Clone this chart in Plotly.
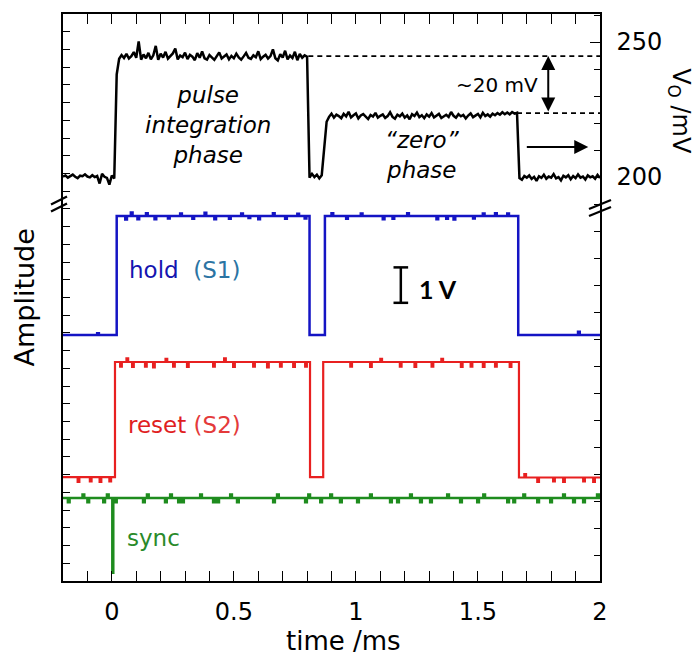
import plotly.graph_objects as go

# ---------------- data ----------------
# Output voltage V_O (mV), sampled every 0.01 ms from -0.20 to 2.00 ms
v0_mV = [
    # -0.20 .. 0.01 (baseline)
    200.2, 200.6, 199.8, 200.4, 200.9, 200.1, 199.6, 200.5, 200.3, 201.0,
    200.2, 199.9, 200.7, 200.0, 200.4, 197.6, 201.2, 200.1, 199.7, 197.2,
    200.6, 199.5,
    # 0.02 (rise)
    238.0,
    # 0.03 .. 0.80 (pulse integration)
    243.8, 245.2, 244.1, 245.6, 243.9, 244.8, 246.3, 244.2, 250.2, 243.5,
    245.4, 244.0, 246.0, 243.6, 245.1, 248.6, 243.4, 245.7, 244.3, 246.4,
    243.9, 244.9, 245.8, 247.6, 243.6, 245.0, 244.4, 246.1, 243.7, 245.3,
    244.6, 243.3, 245.9, 244.2, 246.5, 244.0, 243.5, 245.2, 244.1, 243.4,
    244.8, 246.2, 243.9, 244.5, 245.4, 243.6, 244.9, 244.0, 245.7, 244.3,
    243.5, 244.7, 246.0, 244.2, 243.8, 245.1, 244.4, 246.6, 243.7, 244.6,
    245.3, 243.9, 244.8, 247.3, 244.0, 243.2, 245.5, 244.3, 246.8, 243.6,
    245.0, 244.1, 246.4, 243.3, 245.6, 244.2, 245.1, 244.6,
    # 0.81 .. 0.86 (reset dip)
    199.8, 201.2, 200.0, 200.9, 199.5, 200.7,
    # 0.87 .. 0.88 (rise)
    212.0, 220.5,
    # 0.89 .. 1.66 ("zero" phase)
    222.3, 223.5, 222.0, 223.1, 222.6, 221.8, 223.4, 222.5, 224.2, 222.1,
    222.9, 223.6, 221.7, 222.8, 223.3, 222.2, 221.5, 223.0, 222.4, 223.8,
    222.0, 222.7, 223.2, 221.9, 222.6, 224.0, 222.3, 221.6, 223.1, 222.5,
    223.5, 222.0, 222.8, 221.4, 223.3, 222.6, 223.9, 222.2, 222.9, 221.8,
    223.2, 222.4, 223.7, 222.1, 222.8, 223.4, 221.9, 222.6, 223.1, 222.3,
    224.1, 222.7, 222.0, 223.3, 222.5, 223.0, 221.7, 222.8, 223.6, 222.2,
    222.9, 223.4, 222.1, 223.8, 222.6, 223.2, 222.4, 223.5, 222.9, 223.7,
    223.1, 224.0, 223.3, 223.9, 223.2, 224.1, 223.5, 223.8,
    # 1.67 .. 2.00 (baseline)
    199.6, 199.0, 200.4, 199.8, 200.6, 199.3, 200.1, 198.6, 200.3, 199.7,
    200.9, 199.4, 200.2, 199.8, 201.1, 199.5, 200.0, 198.8, 200.5, 199.9,
    200.7, 199.2, 200.4, 199.6, 201.0, 199.8, 200.2, 199.1, 200.6, 199.9,
    200.3, 199.4, 200.8, 199.7,
]
time_ms = [round(-0.2 + 0.01 * i, 2) for i in range(len(v0_mV))]

# Digital signals (time ms, amplitude V) as step breakpoints
hold_S1 = [
    (-0.20, 6.94), (-0.060, 6.99), (-0.053, 6.94), (0.020, 10.30),
    (0.055, 10.20), (0.062, 10.30), (0.078, 10.40), (0.085, 10.30),
    (0.105, 10.21), (0.112, 10.30), (0.140, 10.38), (0.147, 10.30),
    (0.175, 10.21), (0.182, 10.30), (0.230, 10.23), (0.237, 10.30),
    (0.280, 10.37), (0.287, 10.30), (0.330, 10.22), (0.337, 10.30),
    (0.380, 10.39), (0.387, 10.30), (0.420, 10.21), (0.427, 10.30),
    (0.480, 10.22), (0.487, 10.30), (0.530, 10.37), (0.537, 10.30),
    (0.560, 10.24), (0.567, 10.30), (0.600, 10.21), (0.607, 10.30),
    (0.660, 10.38), (0.667, 10.30), (0.710, 10.22), (0.717, 10.30),
    (0.760, 10.36), (0.767, 10.30), (0.790, 10.23), (0.797, 10.30),
    (0.810, 6.94), (0.873, 10.30),
    (0.900, 10.38), (0.907, 10.30), (0.960, 10.22), (0.967, 10.30),
    (1.020, 10.37), (1.027, 10.30), (1.110, 10.21), (1.117, 10.30),
    (1.150, 10.22), (1.157, 10.30), (1.210, 10.38), (1.217, 10.30),
    (1.330, 10.21), (1.337, 10.30), (1.370, 10.22), (1.377, 10.30),
    (1.400, 10.20), (1.407, 10.30), (1.480, 10.23), (1.487, 10.30),
    (1.520, 10.37), (1.527, 10.30), (1.570, 10.38), (1.577, 10.30),
    (1.620, 10.37), (1.627, 10.30),
    (1.665, 6.94), (1.910, 7.03), (1.917, 6.94), (2.00, 6.94),
]
reset_S2 = [
    (-0.20, 2.93), (-0.140, 2.80), (-0.133, 2.93), (-0.090, 2.81), (-0.083, 2.93),
    (-0.050, 2.80), (-0.043, 2.93), (-0.010, 2.81), (-0.003, 2.93),
    (0.013, 6.18),
    (0.034, 6.05), (0.041, 6.18), (0.060, 6.28), (0.067, 6.18),
    (0.083, 6.04), (0.090, 6.18), (0.136, 6.05), (0.143, 6.18),
    (0.169, 6.03), (0.176, 6.18), (0.220, 6.27), (0.227, 6.18),
    (0.251, 6.05), (0.258, 6.18), (0.308, 6.04), (0.315, 6.18),
    (0.415, 6.05), (0.422, 6.18), (0.460, 6.28), (0.467, 6.18),
    (0.497, 6.04), (0.504, 6.18), (0.579, 6.05), (0.586, 6.18),
    (0.636, 6.03), (0.643, 6.18), (0.689, 6.05), (0.696, 6.18),
    (0.743, 6.04), (0.750, 6.18), (0.792, 6.05), (0.799, 6.18),
    (0.812, 2.93), (0.866, 6.18),
    (0.977, 6.05), (0.984, 6.18), (1.058, 6.04), (1.065, 6.18),
    (1.100, 6.27), (1.107, 6.18), (1.180, 6.05), (1.187, 6.18),
    (1.240, 6.04), (1.247, 6.18), (1.310, 6.05), (1.317, 6.18),
    (1.350, 6.27), (1.357, 6.18), (1.430, 6.04), (1.437, 6.18),
    (1.470, 6.05), (1.477, 6.18), (1.520, 6.04), (1.527, 6.18),
    (1.570, 6.05), (1.577, 6.18), (1.630, 6.04), (1.637, 6.18),
    (1.668, 2.92), (1.690, 3.02), (1.697, 2.92), (1.743, 2.80), (1.750, 2.92),
    (1.808, 2.81), (1.815, 2.92), (1.849, 2.80), (1.856, 2.92),
    (1.931, 2.81), (1.938, 2.92), (1.972, 2.80), (1.979, 2.92), (2.00, 2.92),
]
sync = [
    (-0.20, 2.34), (-0.180, 2.22), (-0.173, 2.34), (-0.120, 2.44), (-0.113, 2.34),
    (-0.100, 2.22), (-0.093, 2.34), (-0.035, 2.22), (-0.028, 2.34),
    (-0.020, 2.44), (-0.013, 2.34), (0.002, 0.23), (0.006, 2.34),
    (0.013, 2.22), (0.020, 2.34), (0.128, 2.22), (0.135, 2.34),
    (0.144, 2.44), (0.151, 2.34), (0.218, 2.22), (0.225, 2.34),
    (0.239, 2.44), (0.246, 2.34), (0.272, 2.22), (0.279, 2.34),
    (0.288, 2.22), (0.295, 2.34), (0.362, 2.44), (0.369, 2.34),
    (0.415, 2.22), (0.422, 2.34), (0.432, 2.22), (0.439, 2.34),
    (0.485, 2.44), (0.492, 2.34), (0.513, 2.22), (0.520, 2.34),
    (0.661, 2.22), (0.668, 2.34), (0.677, 2.44), (0.684, 2.34),
    (0.792, 2.22), (0.799, 2.34), (0.805, 2.44), (0.812, 2.34),
    (0.854, 2.22), (0.861, 2.34), (0.895, 2.44), (0.902, 2.34),
    (0.935, 2.22), (0.942, 2.34), (1.005, 2.22), (1.012, 2.34),
    (1.058, 2.44), (1.065, 2.34), (1.140, 2.22), (1.147, 2.34),
    (1.169, 2.22), (1.176, 2.34), (1.222, 2.44), (1.229, 2.34),
    (1.263, 2.22), (1.270, 2.34), (1.304, 2.22), (1.311, 2.34),
    (1.374, 2.44), (1.381, 2.34), (1.427, 2.22), (1.434, 2.34),
    (1.497, 2.22), (1.504, 2.34), (1.522, 2.44), (1.529, 2.34),
    (1.620, 2.22), (1.627, 2.34), (1.645, 2.22), (1.652, 2.34),
    (1.686, 2.44), (1.693, 2.34), (1.743, 2.22), (1.750, 2.34),
    (1.796, 2.22), (1.803, 2.34), (1.849, 2.44), (1.856, 2.34),
    (1.890, 2.22), (1.897, 2.34), (1.931, 2.22), (1.938, 2.34),
    (1.988, 2.44), (1.995, 2.34), (2.00, 2.34),
]

x_ticks = [0, 0.5, 1, 1.5, 2]
x_ticktext = ["0", "0.5", "1", "1.5", "2"]
v0_ticks = [200, 250]

level_pulse_mV = 244.8    # dashed reference: integrated pulse level
level_zero_mV = 223.7     # dashed reference: "zero" level
t_pulse_end = 0.805
t_zero_end = 1.66

scalebar_t = 1.184
scalebar_bottom_V = 7.85
scalebar_V = 1.0

# ---------------- figure ----------------
FONT = "DejaVu Sans"
fig = go.Figure()

fig.add_trace(go.Scatter(x=time_ms, y=v0_mV, mode="lines", yaxis="y2",
                         line=dict(color="black", width=2.5), hoverinfo="skip"))

def add_step(pairs, color, width):
    t = [p[0] for p in pairs]
    v = [p[1] for p in pairs]
    fig.add_trace(go.Scatter(x=t, y=v, mode="lines", line_shape="hv",
                             line=dict(color=color, width=width), hoverinfo="skip"))

add_step(sync, "#1e8c1e", 2.5)
add_step(reset_S2, "#e82020", 2.2)
add_step(hold_S1, "#1414c4", 2.5)

# 1 V scale bar (I-beam)
half = 0.03
top = scalebar_bottom_V + scalebar_V
fig.add_trace(go.Scatter(
    x=[scalebar_t - half, scalebar_t + half, None, scalebar_t, scalebar_t, None,
       scalebar_t - half, scalebar_t + half],
    y=[top, top, None, top, scalebar_bottom_V, None, scalebar_bottom_V, scalebar_bottom_V],
    mode="lines", line=dict(color="black", width=2.5), hoverinfo="skip"))

shapes = [
    dict(type="line", xref="x", yref="y2", x0=t_pulse_end, x1=2.0,
         y0=level_pulse_mV, y1=level_pulse_mV, line=dict(color="black", width=1.6, dash="5px,4px")),
    dict(type="line", xref="x", yref="y2", x0=t_zero_end, x1=2.0,
         y0=level_zero_mV, y1=level_zero_mV, line=dict(color="black", width=1.6, dash="5px,4px")),
]

# axis-break marks (pixel geometry converted to paper coords)
PW, PH = 537.0, 567.0
def brk(cx, cy, w, h):
    for dy in (-3.5, 3.5):
        shapes.append(dict(type="line", xref="paper", yref="paper",
                           x0=(cx - w / 2 - 63) / PW, x1=(cx + w / 2 - 63) / PW,
                           y0=(581 - (cy + dy + h / 2)) / PH, y1=(581 - (cy + dy - h / 2)) / PH,
                           line=dict(color="black", width=2.2)))
brk(59, 204, 16, 8)
brk(600, 208, 22, 9)

ann = [
    dict(x=0.395, y=219.3, xref="x", yref="y2", text="<i>pulse<br>integration<br>phase</i>",
         showarrow=False, font=dict(family=FONT, size=23, color="black")),
    dict(x=1.271, y=208.0, xref="x", yref="y2", text="<i>“zero”<br>phase</i>",
         showarrow=False, font=dict(family=FONT, size=23, color="black")),
    dict(x=1.579, y=234.1, xref="x", yref="y2", text="~20 mV",
         showarrow=False, font=dict(family=FONT, size=20, color="black")),
    dict(x=1.788, y=level_pulse_mV, ax=1.788, ay=level_zero_mV, xref="x", yref="y2",
         axref="x", ayref="y2", text="", showarrow=True, arrowhead=2, arrowside="end+start",
         arrowsize=1.4, arrowwidth=2, arrowcolor="black"),
    dict(x=1.952, y=211.1, ax=1.694, ay=211.1, xref="x", yref="y2",
         axref="x", ayref="y2", text="", showarrow=True, arrowhead=2,
         arrowsize=1.4, arrowwidth=2, arrowcolor="black"),
    dict(x=0.062, y=8.78, xref="x", yref="y", xanchor="left",
         text="<span style='color:#1515b0'>hold</span>  <span style='color:#2b74a3'>(S1)</span>",
         showarrow=False, font=dict(family=FONT, size=23)),
    dict(x=0.059, y=4.40, xref="x", yref="y", xanchor="left",
         text="<span style='color:#e0201e'>reset</span> <span style='color:#e43a3a'>(S2)</span>",
         showarrow=False, font=dict(family=FONT, size=23)),
    dict(x=0.055, y=1.21, xref="x", yref="y", xanchor="left", text="sync",
         showarrow=False, font=dict(family=FONT, size=23, color="#2a8a2a")),
    dict(x=1.251, y=8.24, xref="x", yref="y", xanchor="left", text="<b>1 V</b>",
         showarrow=False, font=dict(family="Lato", size=25, color="black")),
    # axis titles
    dict(x=0, y=0.5, xref="paper", yref="paper", xanchor="center", yanchor="middle",
         xshift=-39, text="Amplitude", textangle=-90,
         showarrow=False, font=dict(family=FONT, size=27, color="black")),
    dict(x=0.95, y=0, xref="x", yref="paper", xanchor="center", yanchor="middle",
         yshift=-60, text="time /ms",
         showarrow=False, font=dict(family=FONT, size=26, color="black")),
    dict(x=1, y=224.4, xref="paper", yref="y2", xanchor="center", yanchor="middle",
         xshift=80, text="V<sub>O</sub> /mV", textangle=90,
         showarrow=False, font=dict(family=FONT, size=24, color="black")),
]

fig.update_layout(
    width=697, height=655,
    margin=dict(l=63, r=97, t=14, b=74),
    paper_bgcolor="white", plot_bgcolor="white",
    showlegend=False,
    shapes=shapes, annotations=ann,
    xaxis=dict(range=[-0.2, 2.0], showline=True, linecolor="black", linewidth=1.5,
               mirror="allticks", ticks="inside", ticklen=10, tickwidth=1.2, tickcolor="black",
               tickvals=x_ticks, ticktext=x_ticktext, ticklabelstandoff=8,
               minor=dict(tickmode="linear", tick0=0, dtick=0.1, ticks="inside", ticklen=6,
                          tickwidth=1.2, tickcolor="black"),
               tickfont=dict(family=FONT, size=24, color="black"),
               showgrid=False, zeroline=False),
    yaxis=dict(range=[0, 16], showline=True, linecolor="black", linewidth=1.5,
               ticks="inside", ticklen=7, tickwidth=1.2, tickcolor="black",
               tickmode="linear", tick0=0, dtick=0.5, showticklabels=False,
               showgrid=False, zeroline=False),
    yaxis2=dict(range=[50.4, 260.4], overlaying="y", side="right", showline=True,
                linecolor="black", linewidth=1.5, ticks="inside", ticklen=10, tickwidth=1.2,
                tickcolor="black", tickvals=v0_ticks, ticklabelstandoff=10,
                minor=dict(tickmode="linear", tick0=0, dtick=10, ticks="inside", ticklen=6,
                           tickwidth=1.2, tickcolor="black"),
                tickfont=dict(family=FONT, size=24, color="black"),
                showgrid=False, zeroline=False),
)

fig.write_html("out.html")
